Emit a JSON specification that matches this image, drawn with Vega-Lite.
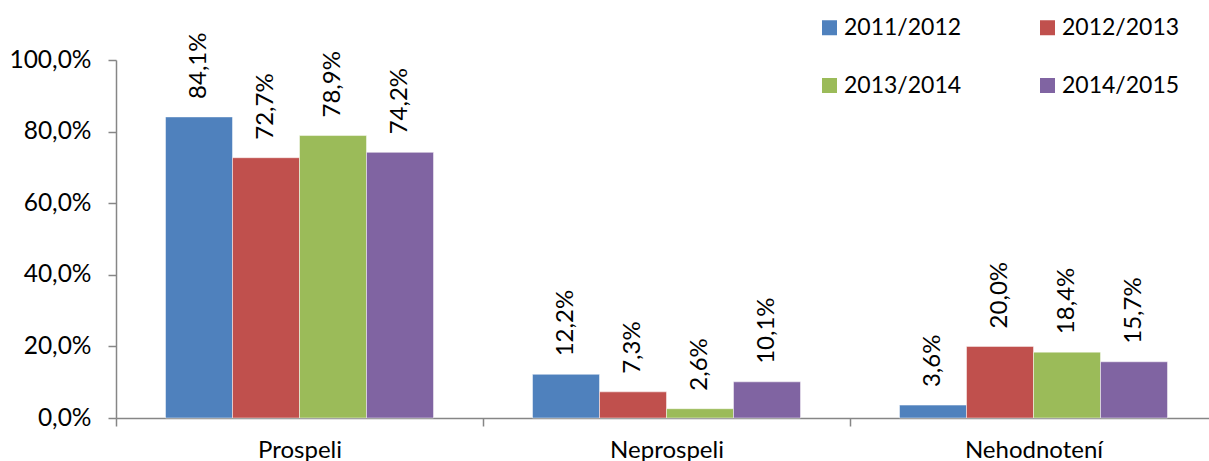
{
  "$schema": "https://vega.github.io/schema/vega-lite/v6.json",
  "autosize": {"type": "none"},
  "padding": {"left": 116, "top": 60, "right": 0, "bottom": 43},
  "width": 1093,
  "height": 358,
  "background": "white",
  "data": {
    "values": [
      {"cat": "Prospeli", "year": "2011/2012", "value": 84.1, "label": "84,1%"},
      {"cat": "Prospeli", "year": "2012/2013", "value": 72.7, "label": "72,7%"},
      {"cat": "Prospeli", "year": "2013/2014", "value": 78.9, "label": "78,9%"},
      {"cat": "Prospeli", "year": "2014/2015", "value": 74.2, "label": "74,2%"},
      {"cat": "Neprospeli", "year": "2011/2012", "value": 12.2, "label": "12,2%"},
      {"cat": "Neprospeli", "year": "2012/2013", "value": 7.3, "label": "7,3%"},
      {"cat": "Neprospeli", "year": "2013/2014", "value": 2.6, "label": "2,6%"},
      {"cat": "Neprospeli", "year": "2014/2015", "value": 10.1, "label": "10,1%"},
      {"cat": "Nehodnotení", "year": "2011/2012", "value": 3.6, "label": "3,6%"},
      {"cat": "Nehodnotení", "year": "2012/2013", "value": 20.0, "label": "20,0%"},
      {"cat": "Nehodnotení", "year": "2013/2014", "value": 18.4, "label": "18,4%"},
      {"cat": "Nehodnotení", "year": "2014/2015", "value": 15.7, "label": "15,7%"}
    ]
  },
  "encoding": {
    "x": {
      "field": "cat",
      "type": "nominal",
      "sort": ["Prospeli", "Neprospeli", "Nehodnotení"],
      "scale": {"range": [0, 1101], "paddingInner": 0, "paddingOuter": 0},
      "axis": {
        "title": null,
        "labelAngle": 0,
        "tickBand": "extent",
        "labelFont": "Lato",
        "labelFontSize": 24,
        "labelColor": "#000000",
        "labelPadding": 12,
        "tickSize": 8,
        "domainColor": "#868686",
        "tickColor": "#868686",
        "domainWidth": 1.5,
        "tickWidth": 1.5,
        "grid": false
      }
    },
    "xOffset": {
      "field": "year",
      "type": "nominal",
      "sort": ["2011/2012", "2012/2013", "2013/2014", "2014/2015"],
      "scale": {"paddingInner": 0, "paddingOuter": 0.739}
    },
    "y": {
      "field": "value",
      "type": "quantitative",
      "scale": {"domain": [0, 100], "nice": false},
      "axis": {
        "title": null,
        "values": [0, 20, 40, 60, 80, 100],
        "labelExpr": "replace(format(datum.value, '.1f'), '.', ',') + '%'",
        "labelFont": "Lato",
        "labelFontSize": 24.5,
        "labelColor": "#000000",
        "labelPadding": 17,
        "tickSize": 8,
        "domainColor": "#868686",
        "tickColor": "#868686",
        "domainWidth": 1.5,
        "tickWidth": 1.5,
        "grid": false
      }
    }
  },
  "layer": [
    {
      "mark": {"type": "bar", "stroke": "#ffffff", "strokeWidth": 0.8, "strokeOpacity": 0.6},
      "encoding": {
        "color": {
          "field": "year",
          "type": "nominal",
          "sort": ["2011/2012", "2012/2013", "2013/2014", "2014/2015"],
          "scale": {
            "domain": ["2011/2012", "2012/2013", "2013/2014", "2014/2015"],
            "range": ["#4F81BD", "#C0504D", "#9BBB59", "#8064A2"]
          },
          "legend": {
            "title": null,
            "orient": "none",
            "legendX": 702,
            "legendY": -44,
            "direction": "horizontal",
            "columns": 2,
            "columnPadding": 74,
            "rowPadding": 34,
            "symbolType": "square",
            "symbolSize": 225,
            "symbolStrokeWidth": 0,
            "labelFont": "Lato",
            "labelFontSize": 23,
            "labelColor": "#000000",
            "labelOffset": 3
          }
        }
      }
    },
    {
      "mark": {
        "type": "text",
        "angle": 270,
        "align": "left",
        "baseline": "middle",
        "dx": 18,
        "font": "Lato",
        "fontSize": 24,
        "color": "#000000"
      },
      "encoding": {
        "text": {"field": "label", "type": "nominal"}
      }
    }
  ],
  "config": {
    "view": {"stroke": null}
  }
}
